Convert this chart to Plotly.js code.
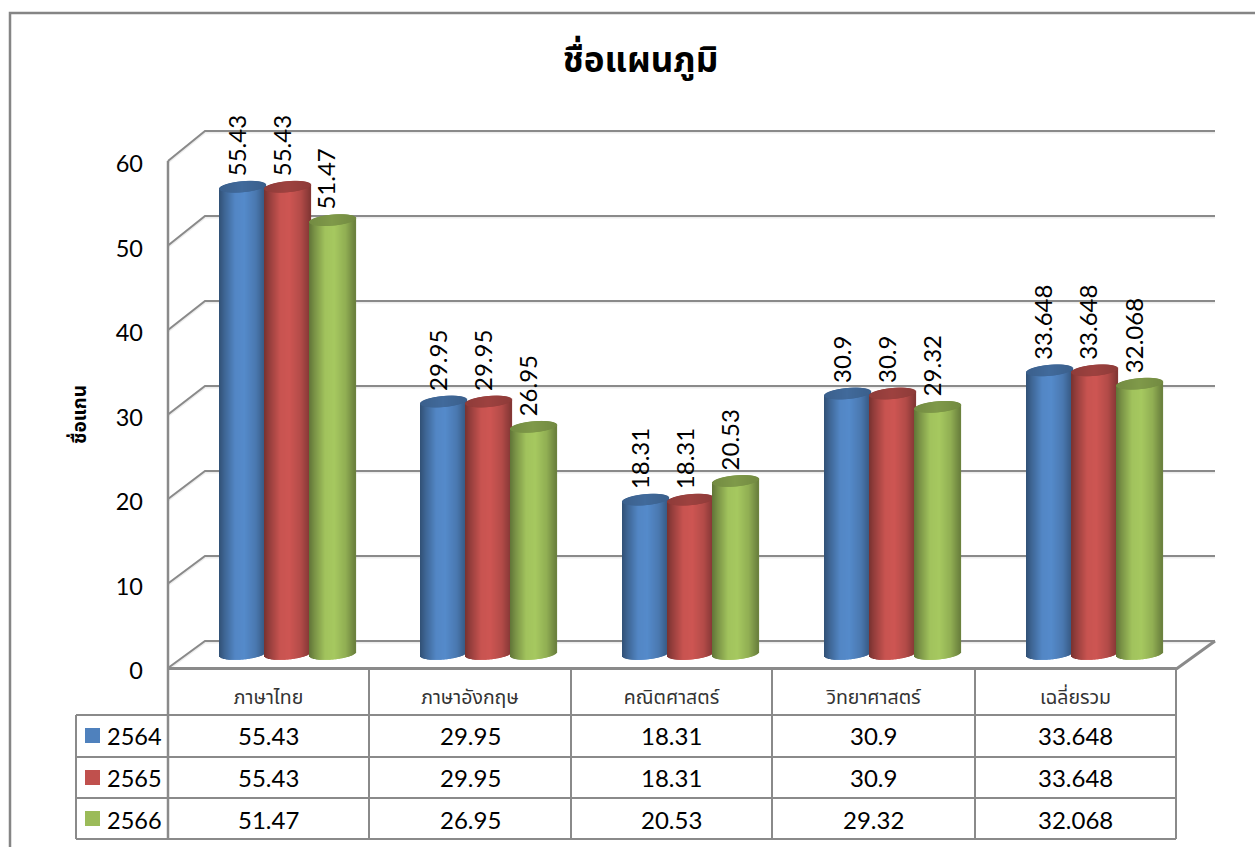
<!DOCTYPE html>
<html><head><meta charset="utf-8">
<script src="https://cdn.plot.ly/plotly-3.0.1.min.js"></script>
<style>html,body{margin:0;padding:0;background:#fff;overflow:hidden}</style>
</head><body><div id="chart" style="width:1255px;height:847px"></div>
<script>
const categories = ['ภาษาไทย','ภาษาอังกฤษ','คณิตศาสตร์','วิทยาศาสตร์','เฉลี่ยรวม'];
const seriesNames = ['2564','2565','2566'];
const values2564 = [55.43,29.95,18.31,30.9,33.648];
const values2565 = [55.43,29.95,18.31,30.9,33.648];
const values2566 = [51.47,26.95,20.53,29.32,32.068];
const seriesValues = [values2564,values2565,values2566];
const seriesColors = [[79,129,189],[192,80,77],[155,187,89]];
const gridValues = [0,10,20,30,40,50,60];

const W=1255,H=847, GREY='#8a8a8a';
const FONT="Lato, 'Noto Sans', sans-serif";
const THAI="Tahoma, 'Noto Sans Thai', 'Noto Sans', Lato, sans-serif";
// pixel geometry of the plot
const FRONT0=668, FRONT_SCALE=8.45, WALL0=641, WALL_SCALE=8.5, BAR0=654, BAR_SCALE=8.43, AXIS0=671;
const LEFT=168, RIGHT=1216, TOP=125, GROUP0=287.5, GROUP_STEP=201.75;
const CYL=46, STEP=45, RY=5.5, TILT=2;
const xVal=p=>(p-GROUP0)/GROUP_STEP;
const px=x=>x/W, py=y=>1-y/H;

function shade(c,f){const m=c.map(v=>Math.max(0,Math.min(255,Math.round(v*f))));return `rgb(${m[0]},${m[1]},${m[2]})`;}
function interp(stops,t){for(let i=1;i<stops.length;i++){if(t<=stops[i][0]){const a=stops[i-1],b=stops[i];return a[1]+(b[1]-a[1])*(t-a[0])/(b[0]-a[0]);}}return stops[stops.length-1][1];}
const SIDE=[[0,.62],[.12,.78],[.35,1.04],[.55,1.07],[.8,.93],[1,.68]];
const CAP=[[0,.74],[.5,.82],[1,.74]];

const traces=seriesNames.map((name,si)=>{
  const x=[],y=[],base=[],width=[],color=[];
  const col=seriesColors[si];
  seriesValues[si].forEach((v,gi)=>{
    const left=Math.floor(220+GROUP_STEP*gi)+si*STEP;
    const strips=[];
    for(let p=0;p<CYL;p++){
      const t=(p+.5)/CYL*2-1, s=Math.sqrt(1-t*t), u=(p+.5)/CYL;
      const xv=xVal(left+p+.5);
      const bot=(-RY*s+TILT*t)/BAR_SCALE, top=v+TILT*t/BAR_SCALE;
      strips.push([xv,bot,top,shade(col,interp(SIDE,u))]);
    }
    for(let p=0;p<CYL;p++){
      const t=(p+.5)/CYL*2-1, s=Math.sqrt(1-t*t), u=(p+.5)/CYL;
      const xv=xVal(left+p+.5);
      const c=v+TILT*t/BAR_SCALE;
      strips.push([xv,c-RY*s/BAR_SCALE,c+RY*s/BAR_SCALE,shade(col,interp(CAP,u))]);
    }
    strips.forEach(st=>{x.push(st[0]);base.push(st[1]);y.push(st[2]-st[1]);width.push(1.2/GROUP_STEP);color.push(st[3]);});
  });
  return {type:'bar',name,x,y,base,width,xaxis:'x',yaxis:'y2',marker:{color,line:{width:0}},hoverinfo:'skip',showlegend:false};
});
// invisible trace so the front axis is drawn
traces.unshift({type:'scatter',mode:'none',x:[0],y:[0],xaxis:'x',yaxis:'y',hoverinfo:'skip',showlegend:false});

const shapes=[];
const line=(pts,w,c)=>{shapes.push({type:'path',layer:'below',xref:'paper',yref:'paper',
  path:pts.map((q,i)=>(i?'L':'M')+px(q[0])+' '+py(q[1])).join(' '),line:{color:c||GREY,width:w||2}});};
// frame
line([[10,H],[10,13],[W,13]],2.5,'#858585');
// walls
gridValues.forEach(v=>{
  const f=FRONT0-FRONT_SCALE*v, w=WALL0-WALL_SCALE*v;
  line([[168,f+1],[205,w+1],[1215,w+1]],3,'rgba(0,0,0,0.07)');
  line([[168,f],[205,w],[1215,w]],2,GREY);
});
line([[168,161],[168,840]],2.5);
line([[168,668.5],[1177,668.5],[1215,641]],3);
// table
const colX=[168,369,571,772,975,1176], rowY=[715,757,798,839];
colX.forEach(c=>line([[c,668],[c,839]],2));
rowY.forEach(r=>line([[76,r],[1176,r]],2));
line([[76,715],[76,839]],2);
seriesColors.forEach((c,i)=>{
  const yy=[728,770,811][i];
  shapes.push({type:'rect',layer:'above',xref:'paper',yref:'paper',x0:px(85),x1:px(100),y0:py(yy),y1:py(yy+15),fillcolor:shade(c,1),line:{width:0}});
});

const annotations=[];
// rotated data labels
seriesValues.forEach((vals,si)=>vals.forEach((v,gi)=>{
  const left=Math.floor(220+GROUP_STEP*gi)+si*STEP;
  annotations.push({xref:'x',yref:'y2',x:xVal(left+CYL/2),y:v,text:String(v),textangle:-90,showarrow:false,
    xanchor:'center',yanchor:'bottom',xshift:-7,yshift:8,font:{family:FONT,size:24,color:'#000'}});
}));
// table cells
const rowC=[735.5,777.5,819.5];
seriesNames.forEach((n,si)=>{
  annotations.push({xref:'paper',yref:'paper',x:px(105),y:py(rowC[si]),text:n,showarrow:false,xanchor:'left',yanchor:'middle',font:{family:FONT,size:23.5,color:'#000'}});
  seriesValues[si].forEach((v,gi)=>{
    annotations.push({xref:'paper',yref:'paper',x:px((colX[gi]+colX[gi+1])/2),y:py(rowC[si]),text:String(v),showarrow:false,xanchor:'center',yanchor:'middle',font:{family:FONT,size:24,color:'#000'}});
  });
});
// value axis title
annotations.push({xref:'paper',yref:'paper',x:px(80),y:py(415),text:'<b>ชื่อแกน</b>',textangle:-90,showarrow:false,xanchor:'center',yanchor:'middle',font:{family:THAI,size:19,color:'#000'}});

const layout={
  width:W,height:H,autosize:false,margin:{l:0,r:0,t:0,b:0,pad:0},
  paper_bgcolor:'#fff',plot_bgcolor:'rgba(0,0,0,0)',barmode:'overlay',showlegend:false,
  title:{text:'<b>ชื่อแผนภูมิ</b>',x:640.5/W,xanchor:'center',y:1-60/H,yanchor:'middle',font:{family:THAI,size:35,color:'#000'}},
  xaxis:{domain:[px(LEFT),px(RIGHT)],range:[xVal(LEFT),xVal(RIGHT)],tickmode:'array',
    tickvals:categories.map((c,i)=>(((colX[i]+colX[i+1])/2)-GROUP0)/GROUP_STEP),ticktext:categories,
    ticks:'',showgrid:false,zeroline:false,showline:false,ticklabelstandoff:12,tickangle:0,
    tickfont:{family:THAI,size:19.5,color:'#333'},anchor:'y',automargin:false,fixedrange:true},
  yaxis:{domain:[py(AXIS0),py(TOP)],range:[0,(AXIS0-TOP)/FRONT_SCALE],tickmode:'array',tickvals:gridValues,
    ticks:'',showgrid:false,zeroline:false,showline:false,ticklabelstandoff:24,
    tickfont:{family:FONT,size:23.5,color:'#000'},anchor:'x',automargin:false,fixedrange:true},
  yaxis2:{domain:[py(AXIS0),py(TOP)],range:[(BAR0-AXIS0)/BAR_SCALE,(BAR0-TOP)/BAR_SCALE],overlaying:'y',
    visible:false,fixedrange:true,anchor:'x'},
  shapes,annotations
};
Plotly.newPlot('chart',traces,layout,{displayModeBar:false,responsive:false});
</script></body></html>
